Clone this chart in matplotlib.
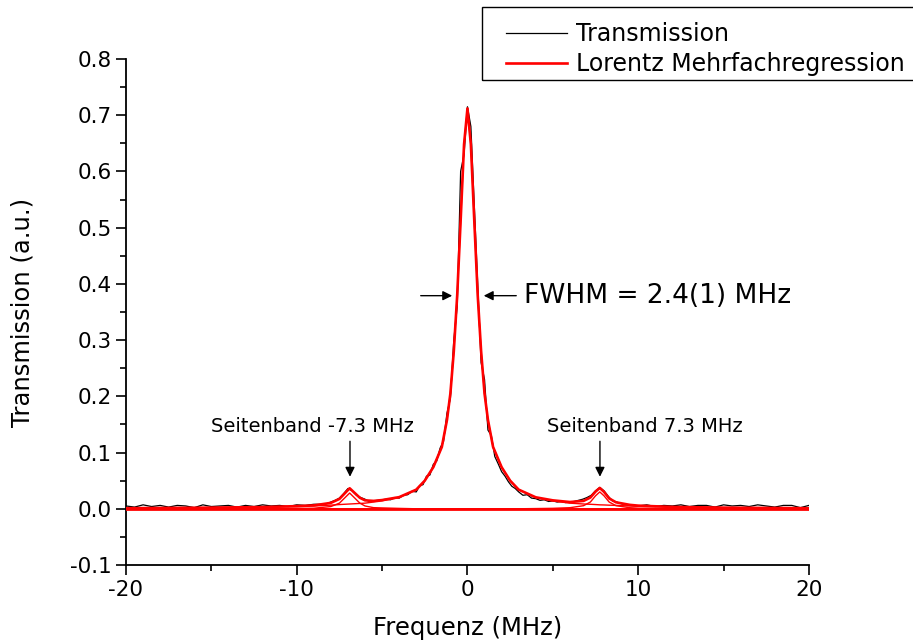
import matplotlib
matplotlib.use("Agg")
import matplotlib.pyplot as plt
from matplotlib.patches import Rectangle
from matplotlib.ticker import MultipleLocator

data_x = [-20, -19.5, -19, -18.5, -18, -17.5, -17, -16.5, -16, -15.5, -15, -14.5, -14,
          -13.5, -13, -12.5, -12, -11.5, -11, -10.5, -10, -9.5, -9,
          -8.5, -8.25, -8, -7.75, -7.5, -7.25, -7, -6.75, -6.5, -6.25, -6, -5.75, -5.5, -5.25, -5,
          -4.75, -4.5, -4.25, -4, -3.75, -3.5, -3.25, -3,
          -2.8, -2.6, -2.4, -2.2, -2.0, -1.8, -1.6, -1.4, -1.2, -1.0, -0.8, -0.6, -0.4, -0.2,
          0, 0.2, 0.4, 0.6, 0.8, 1.0, 1.2, 1.4, 1.6, 1.8, 2.0, 2.2, 2.4, 2.6, 2.8,
          3, 3.25, 3.5, 3.75, 4, 4.25, 4.5, 4.75, 5,
          5.25, 5.5, 5.75, 6, 6.25, 6.5, 6.75, 7, 7.25, 7.5, 7.75, 8, 8.25, 8.5, 8.75, 9,
          9.5, 10, 10.5, 11, 11.5, 12, 12.5, 13, 13.5, 14, 14.5, 15, 15.5, 16, 16.5, 17,
          17.5, 18, 18.5, 19, 19.5, 20]
data_y = [0.005, 0.003, 0.007, 0.004, 0.006, 0.003, 0.006, 0.005, 0.002, 0.007, 0.004, 0.005, 0.006,
          0.003, 0.006, 0.004, 0.007, 0.005, 0.006, 0.004, 0.007, 0.006, 0.008,
          0.008, 0.009, 0.012, 0.015, 0.019, 0.027, 0.036, 0.032, 0.024, 0.020, 0.017, 0.013, 0.014, 0.015, 0.016,
          0.017, 0.016, 0.020, 0.019, 0.024, 0.025, 0.031, 0.030,
          0.041, 0.043, 0.058, 0.060, 0.079, 0.085, 0.108, 0.120, 0.170, 0.196, 0.300, 0.360, 0.600, 0.630,
          0.715, 0.680, 0.540, 0.400, 0.260, 0.230, 0.140, 0.130, 0.093, 0.080, 0.066, 0.058, 0.048, 0.040, 0.036,
          0.030, 0.024, 0.025, 0.019, 0.018, 0.015, 0.016, 0.013, 0.014,
          0.012, 0.013, 0.011, 0.012, 0.013, 0.015, 0.017, 0.020, 0.024, 0.032, 0.038, 0.032, 0.022, 0.014, 0.012, 0.009,
          0.006, 0.005, 0.007, 0.004, 0.006, 0.005, 0.007, 0.004, 0.006, 0.006, 0.003, 0.007, 0.005, 0.006, 0.004, 0.007,
          0.005, 0.003, 0.006, 0.006, 0.002, 0.006]

# Lorentz multi-peak fit
fit_x = [-20, -15, -12, -10, -9, -8, -7.5, -7.2, -6.9, -6.6, -6.3, -6, -5.5, -5, -4, -3, -2.5, -2,
         -1.5, -1.2, -1, -0.8, -0.6, -0.4, -0.2, 0, 0.2, 0.4, 0.6, 0.8, 1, 1.2, 1.5, 2, 2.5, 3, 4, 5,
         6, 6.8, 7.2, 7.5, 7.75, 8, 8.3, 8.7, 9.5, 10, 12, 15, 20]
fit_total = [0.001, 0.002, 0.003, 0.0047, 0.006, 0.0105, 0.0175, 0.027, 0.0365, 0.028, 0.0195, 0.015,
             0.014, 0.0155, 0.0207, 0.034, 0.050, 0.074, 0.110, 0.158, 0.205, 0.280, 0.380, 0.512, 0.648,
             0.712, 0.648, 0.512, 0.380, 0.280, 0.205, 0.158, 0.110, 0.074, 0.050, 0.034, 0.0204, 0.015,
             0.012, 0.014, 0.020, 0.0305, 0.037, 0.030, 0.0184, 0.0115, 0.007, 0.0056, 0.0033, 0.002, 0.001]
fit_main = [0.001, 0.002, 0.003, 0.004, 0.005, 0.0065, 0.0075, 0.008, 0.0085, 0.009, 0.0095, 0.010,
            0.012, 0.014, 0.020, 0.034, 0.050, 0.074, 0.110, 0.158, 0.205, 0.280, 0.380, 0.512, 0.648,
            0.712, 0.648, 0.512, 0.380, 0.280, 0.205, 0.158, 0.110, 0.074, 0.050, 0.034, 0.020, 0.014,
            0.010, 0.0085, 0.008, 0.0075, 0.007, 0.0068, 0.0064, 0.006, 0.005, 0.0045, 0.003, 0.002, 0.001]
fit_side_left = [0, 0, 0, 0.0007, 0.001, 0.004, 0.010, 0.019, 0.028, 0.019, 0.010, 0.005,
                 0.002, 0.0015, 0.0007, 0, 0, 0, 0, 0, 0, 0, 0, 0, 0, 0, 0, 0, 0, 0, 0, 0, 0, 0, 0, 0, 0, 0,
                 0, 0, 0, 0, 0, 0, 0, 0, 0, 0, 0, 0, 0]
fit_side_right = [0, 0, 0, 0, 0, 0, 0, 0, 0, 0, 0, 0, 0, 0, 0, 0, 0, 0, 0, 0, 0, 0, 0, 0, 0, 0, 0, 0,
                  0, 0, 0, 0, 0, 0, 0, 0, 0.0004, 0.0008, 0.0019, 0.0055, 0.012, 0.023, 0.030, 0.023,
                  0.012, 0.0055, 0.0019, 0.0011, 0.0003, 0, 0]
fit_base = [0.0, 0.0]
base_x = [-20, 20]

fig = plt.figure(figsize=(9.13, 6.43), dpi=100)
ax = fig.add_axes([0.138, 0.1213, 0.748, 0.787])

ax.plot(data_x, data_y, color="black", lw=0.9, label="Transmission", zorder=2)
ax.plot(base_x, fit_base, color="red", lw=2.0, zorder=3)
ax.plot(fit_x, fit_main, color="red", lw=1.0, zorder=3)
ax.plot(fit_x, fit_side_left, color="red", lw=1.0, zorder=3)
ax.plot(fit_x, fit_side_right, color="red", lw=1.0, zorder=3)
ax.plot(fit_x, fit_total, color="red", lw=1.9, label="Lorentz Mehrfachregression", zorder=4)

ax.set_xlim(-20, 20)
ax.set_ylim(-0.1, 0.8)
ax.xaxis.set_minor_locator(MultipleLocator(5))
ax.yaxis.set_minor_locator(MultipleLocator(0.05))
ax.set_yticks([-0.1, 0, 0.1, 0.2, 0.3, 0.4, 0.5, 0.6, 0.7, 0.8])
ax.set_yticklabels(["-0.1", "0.0", "0.1", "0.2", "0.3", "0.4", "0.5", "0.6", "0.7", "0.8"])
ax.set_xticks([-20, -10, 0, 10, 20])
ax.set_xticklabels(["-20", "-10", "0", "10", "20"])
ax.tick_params(which="major", direction="out", length=7, width=1.2, labelsize=15.5)
ax.tick_params(which="minor", direction="out", length=4, width=1.2)
for s in ["top", "right"]:
    ax.spines[s].set_visible(False)
for s in ["left", "bottom"]:
    ax.spines[s].set_linewidth(1.3)

ax.set_xlabel("Frequenz (MHz)", fontsize=17.5, labelpad=12)
ax.set_ylabel("Transmission (a.u.)", fontsize=17.5, labelpad=25)

# FWHM arrows
arr = dict(arrowstyle="-|>", color="black", lw=1.0, mutation_scale=14)
ax.annotate("", xy=(-0.73, 0.379), xytext=(-2.9, 0.379), arrowprops=arr)
ax.annotate("", xy=(0.79, 0.379), xytext=(3.02, 0.379), arrowprops=arr)
ax.text(3.3, 0.379, "FWHM = 2.4(1) MHz", fontsize=19, va="center", ha="left")

# sideband labels
ax.text(-9.1, 0.147, "Seitenband -7.3 MHz", ha="center", va="center", fontsize=14)
ax.annotate("", xy=(-6.88, 0.052), xytext=(-6.88, 0.125), arrowprops=arr)
ax.text(10.4, 0.147, "Seitenband 7.3 MHz", ha="center", va="center", fontsize=14)
ax.annotate("", xy=(7.76, 0.052), xytext=(7.76, 0.125), arrowprops=arr)

# legend box runs off the right edge in the original
fig.patches.append(Rectangle((482 / 913, 1 - 80 / 643), 440 / 913, 73 / 643, fill=False,
                             ec="black", lw=1.0, transform=fig.transFigure, clip_on=False))
leg = fig.legend(loc="upper left", bbox_to_anchor=(506 / 913, 1 - 22 / 643), fontsize=17,
                 frameon=False, handlelength=2.6, borderpad=0, labelspacing=0.25,
                 handletextpad=0.35, borderaxespad=0)

fig.savefig("out.png", dpi=100)
